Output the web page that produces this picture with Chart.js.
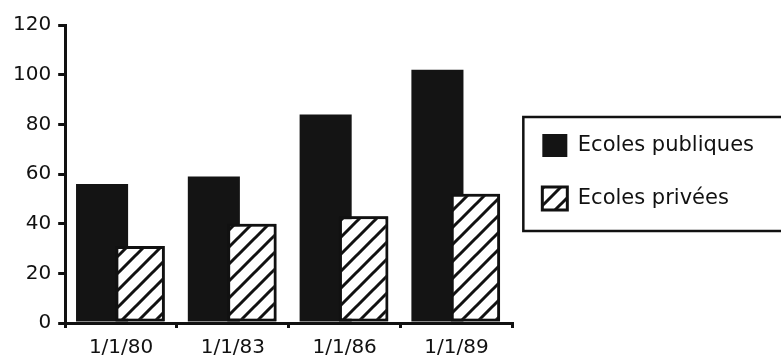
<!DOCTYPE html>
<html>
<head>
<meta charset="utf-8">
<script src="https://cdn.jsdelivr.net/npm/chart.js@4.4.1/dist/chart.umd.min.js"></script>
<style>
    html, body { margin: 0; padding: 0; background: #fff; overflow: hidden; }
    #wrap { width: 781px; height: 355px; overflow: hidden; }
</style>
</head>
<body>
<div id="wrap"><canvas id="grafico" width="781" height="368"></canvas></div>
<script>
var categorias = ['1/1/80', '1/1/83', '1/1/86', '1/1/89'];
var ecolesPubliques = [56, 59, 84, 102];
var ecolesPrivees = [31, 40, 43, 52];
var ticksY = [0, 20, 40, 60, 80, 100, 120];

var FONTE = 'DejaVu Sans';

function criarHachura() {
    var s = 17;
    var c = document.createElement('canvas');
    c.width = s;
    c.height = s;
    var g = c.getContext('2d');
    g.fillStyle = '#fff';
    g.fillRect(0, 0, s, s);
    g.strokeStyle = '#111';
    g.lineWidth = 3;
    g.beginPath();
    g.moveTo(0, s); g.lineTo(s, 0);
    g.moveTo(-s / 2, s / 2); g.lineTo(s / 2, -s / 2);
    g.moveTo(s / 2, s * 1.5); g.lineTo(s * 1.5, s / 2);
    g.stroke();
    return g.createPattern(c, 'repeat');
}

// redesenha as barras hachuradas por cima das pretas
var pluginOrdem = {
    id: 'ordem',
    afterDatasetsDraw: function (chart) {
        chart.getDatasetMeta(1).controller.draw();
    }
};

// moldura da legenda
var pluginMoldura = {
    id: 'moldura',
    afterDraw: function (chart) {
        var lg = chart.legend;
        if (!lg || !lg.legendHitBoxes.length) return;
        var hb = lg.legendHitBoxes;
        var ctx = chart.ctx;
        var x = lg.left + 11;
        var y1 = hb[0].top - 17;
        var y2 = hb[hb.length - 1].top + hb[hb.length - 1].height + 21;
        ctx.save();
        ctx.strokeStyle = '#111';
        ctx.lineWidth = 2.5;
        ctx.strokeRect(x, y1, chart.width + 10 - x, y2 - y1);
        ctx.restore();
    }
};

var hachura = criarHachura();

new Chart(document.getElementById('grafico').getContext('2d'), {
    type: 'bar',
    data: {
        labels: categorias,
        datasets: [
            {
                label: 'Ecoles publiques',
                data: ecolesPubliques,
                backgroundColor: '#141414',
                borderWidth: 0,
                categoryPercentage: 0.68,
                barPercentage: 1.37,
            },
            {
                label: 'Ecoles privées',
                data: ecolesPrivees,
                backgroundColor: hachura,
                borderColor: '#111',
                borderWidth: 3,
                borderSkipped: false,
                categoryPercentage: 0.68,
                barPercentage: 1.3,
            },
        ],
    },
    options: {
        responsive: false,
        animation: false,
        layout: { padding: { left: 6, top: 25, right: 17, bottom: 0 } },
        plugins: {
            tooltip: { enabled: false },
            legend: {
                position: 'right',
                align: 'start',
                maxWidth: 300,
                title: { display: true, text: ' ', font: { size: 12, lineHeight: 1.2 }, padding: { top: 0, bottom: 64.6 } },
                labels: {
                    color: '#111',
                    font: { family: FONTE, size: 21 },
                    boxWidth: 25,
                    boxHeight: 23,
                    padding: 30,
                },
            },
        },
        scales: {
            x: {
                grid: { drawOnChartArea: false, tickLength: 5, lineWidth: 3, color: '#111', offset: true },
                border: { color: '#111', width: 3 },
                ticks: { color: '#111', font: { family: FONTE, size: 20 }, padding: 8, maxRotation: 0 },
            },
            y: {
                min: 0,
                max: 120,
                afterBuildTicks: function (axis) {
                    axis.ticks = ticksY.map(function (v) { return { value: v }; });
                },
                grid: { drawOnChartArea: false, tickLength: 7, lineWidth: 3, color: '#111' },
                border: { color: '#111', width: 3 },
                ticks: { color: '#111', font: { family: FONTE, size: 20 }, padding: 7 },
            },
        },
    },
    plugins: [pluginOrdem, pluginMoldura],
});
</script>
</body>
</html>
